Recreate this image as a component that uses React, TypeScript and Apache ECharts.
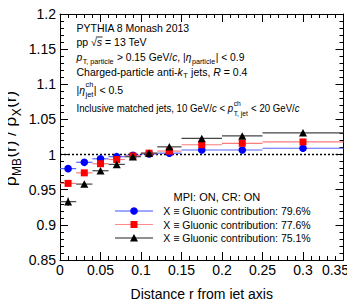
import React, { useEffect, useRef } from 'react';
import * as echarts from 'echarts';

const FONT = 'Liberation Sans';

// ---- data ----
const binEdges = [0, 0.02, 0.04, 0.06, 0.08, 0.1, 0.12, 0.15, 0.2, 0.25, 0.35];
const binCenters = [0.01, 0.03, 0.05, 0.07, 0.09, 0.11, 0.135, 0.175, 0.225, 0.3];
const gluon796 = [0.98, 0.989, 0.994, 0.997, 0.999, 1.001, 1.002, 1.0065, 1.0065, 1.009];
const gluon796Err = [0.004, 0.002, 0.0015, 0.0012, 0.001, 0.001, 0.001, 0.001, 0.001, 0.001];
const gluon776 = [0.959, 0.974, 0.987, 0.993, 0.998, 1.002, 1.005, 1.014, 1.016, 1.018];
const gluon776Err = [0.005, 0.003, 0.002, 0.0015, 0.001, 0.001, 0.001, 0.001, 0.001, 0.001];
const gluon751 = [0.933, 0.958, 0.977, 0.986, 0.997, 1.002, 1.011, 1.023, 1.0265, 1.031];
const gluon751Err = [0.006, 0.003, 0.002, 0.0015, 0.001, 0.001, 0.001, 0.001, 0.001, 0.001];
const xTickLabels = ['0', '0.05', '0.1', '0.15', '0.2', '0.25', '0.3', '0.35'];
const yTickLabels = ['0.85', '0.9', '0.95', '1', '1.05', '1.1', '1.15', '1.2'];
const legendTitle = 'MPI: ON, CR: ON';
const legendLabels = [
  'X ≡ Gluonic contribution: 79.6%',
  'X ≡ Gluonic contribution: 77.6%',
  'X ≡ Gluonic contribution: 75.1%',
];

type Part = { t: string; it?: boolean; k?: 'sub' | 'sup'; over?: boolean } | { sup: { t: string; it?: boolean }; sub: { t: string; it?: boolean } };

let mctx: CanvasRenderingContext2D | null = null;
function tw(t: string, size: number, it?: boolean) {
  if (!mctx) mctx = document.createElement('canvas').getContext('2d');
  mctx!.font = `${it ? 'italic ' : ''}${size}px "${FONT}"`;
  return mctx!.measureText(t).width;
}

function txt(t: string, x: number, base: number, size: number, it?: boolean) {
  return {
    type: 'text',
    x,
    y: base - 0.35 * size,
    silent: true,
    style: {
      text: t,
      fontSize: size,
      fontFamily: FONT,
      fontStyle: it ? 'italic' : 'normal',
      fill: '#000',
      align: 'left',
      verticalAlign: 'middle',
      textAlign: 'left',
      textVerticalAlign: 'middle',
    },
  };
}

function layout(parts: Part[], x0: number, base: number, size: number, out: any[], subRatio = 0.7) {
  let x = x0;
  const ss = size * subRatio;
  for (const p of parts) {
    if ('sup' in p) {
      const w1 = tw(p.sup.t, ss, p.sup.it);
      const w2 = tw(p.sub.t, ss, p.sub.it);
      out.push(txt(p.sup.t, x + 0.5, base - 0.6 * size, ss, p.sup.it));
      out.push(txt(p.sub.t, x + 0.5, base + 0.35 * size, ss, p.sub.it));
      x += Math.max(w1, w2) + 1;
    } else {
      const s = p.k ? ss : size;
      const b = p.k === 'sub' ? base + 0.3 * size : p.k === 'sup' ? base - 0.6 * size : base;
      const w = tw(p.t, s, p.it);
      out.push(txt(p.t, x + (p.k ? 0.5 : 0), b, s, p.it));
      if (p.over) {
        out.push({
          type: 'line',
          silent: true,
          shape: { x1: x - 1, y1: base - 0.8 * size, x2: x + w + 0.5, y2: base - 0.8 * size },
          style: { stroke: '#000', lineWidth: 0.8 },
        });
      }
      x += w + (p.k ? 1 : 0);
    }
  }
  return x;
}

const annotationLines: { parts: Part[]; base: number; size: number; sx?: number }[] = [
  { parts: [{ t: 'PYTHIA 8 Monash 2013' }], base: 32, size: 10.5 },
  { parts: [{ t: 'pp ' }, { t: '√' }, { t: 's', it: true, over: true }, { t: ' = 13 TeV' }], base: 45.4, size: 10.5 },
  {
    parts: [
      { t: 'p', it: true }, { t: 'T, particle', k: 'sub' }, { t: ' > 0.15 GeV/' }, { t: 'c', it: true },
      { t: ', |' }, { t: 'η', it: true }, { t: 'particle', k: 'sub' }, { t: '| < 0.9' },
    ],
    base: 61,
    size: 10.3,
  },
  {
    parts: [{ t: 'Charged-particle anti-' }, { t: 'k', it: true }, { t: 'T', k: 'sub' }, { t: ' jets, ' }, { t: 'R', it: true }, { t: ' = 0.4' }],
    base: 75.4,
    size: 10.5,
  },
  { parts: [{ t: '|' }, { t: 'η', it: true }, { sup: { t: 'ch' }, sub: { t: 'jet' } }, { t: '| < 0.5' }], base: 93.5, size: 10.5 },
  {
    parts: [
      { t: 'Inclusive matched jets, 10 GeV/' }, { t: 'c', it: true }, { t: ' < ' }, { t: 'p', it: true },
      { sup: { t: 'ch' }, sub: { t: 'T, jet' } }, { t: ' < 20 GeV/' }, { t: 'c', it: true },
    ],
    base: 112,
    size: 10.1,
    sx: 0.955,
  },
];

function errSeries(vals: number[], errs: number[], color: string, z: number) {
  return {
    type: 'custom',
    z,
    silent: true,
    clip: false,
    data: vals.map((v, i) => [binEdges[i], binEdges[i + 1], v, errs[i], binCenters[i]]),
    encode: { x: [0, 1, 4], y: 2 },
    renderItem: (_p: any, api: any) => {
      const x0 = api.value(0), x1 = api.value(1), y = api.value(2), e = api.value(3), xc = api.value(4);
      const pL = api.coord([x0, y]);
      const pR = api.coord([x1, y]);
      const pT = api.coord([xc, y + e]);
      const pB = api.coord([xc, y - e]);
      return {
        type: 'group',
        children: [
          { type: 'line', shape: { x1: pL[0], y1: pL[1], x2: pR[0], y2: pR[1] }, style: { stroke: color, lineWidth: 1.2 } },
          { type: 'line', shape: { x1: pT[0], y1: pT[1], x2: pB[0], y2: pB[1] }, style: { stroke: color, lineWidth: 1.2 } },
        ],
      };
    },
  };
}

function axisCommon(show: boolean) {
  return {
    axisLine: { show: true, onZero: false, lineStyle: { color: '#000', width: 1 } },
    axisTick: { show: true, inside: true, length: 8, lineStyle: { color: '#000', width: 1 } },
    minorTick: { show: true, splitNumber: 5, length: 4, lineStyle: { color: '#000', width: 1 } },
    splitLine: { show: false },
    minorSplitLine: { show: false },
    axisLabel: { show },
  };
}

export default function App() {
  const ref = useRef<HTMLDivElement>(null);
  useEffect(() => {
    if (!ref.current) return;
    const chart = echarts.init(ref.current, undefined, { renderer: 'svg' });

    const graphics: any[] = [];
    for (const ln of annotationLines) {
      if (ln.sx) {
        const ch: any[] = [];
        layout(ln.parts, 0, ln.base, ln.size, ch);
        graphics.push({ type: 'group', x: 76.5, y: 0, scaleX: ln.sx, scaleY: 1, children: ch });
      } else {
        layout(ln.parts, 76.5, ln.base, ln.size, graphics);
      }
    }
    const yParts: Part[] = [
      { t: 'ρ' }, { t: 'MB', k: 'sub' }, { t: '(r) / ' }, { t: 'ρ' }, { t: 'X', k: 'sub' }, { t: '(r)' },
    ];
    const yChildren: any[] = [];
    const W = layout(yParts, 0, 0, 17, yChildren);
    graphics.push({ type: 'group', x: 16.5, y: 138.5 + W / 2, rotation: Math.PI / 2, children: yChildren });
    graphics.push({
      type: 'text', x: 201.8, y: 293.5, silent: true,
      style: { text: 'Distance r from jet axis', fontSize: 14, fontFamily: FONT, fill: '#000', align: 'center', verticalAlign: 'middle', textAlign: 'center', textVerticalAlign: 'middle' },
    });
    graphics.push({
      type: 'text', x: 173.5, y: 196.5, silent: true,
      style: { text: legendTitle, fontSize: 11, fontFamily: FONT, fill: '#000', align: 'left', verticalAlign: 'middle', textAlign: 'left', textVerticalAlign: 'middle' },
    });
    const legY = [211, 224.5, 238];
    const legLine = ['#3a55ff', '#ff8888', '#222'];
    const mk = ['#0000ff', '#ff0000', '#000'];
    legY.forEach((y, i) => {
      graphics.push({ type: 'line', silent: true, shape: { x1: 115, y1: y, x2: 153, y2: y }, style: { stroke: legLine[i], lineWidth: 1.2 } });
      if (i === 0) graphics.push({ type: 'circle', silent: true, shape: { cx: 134, cy: y, r: 3.8 }, style: { fill: mk[i] } });
      if (i === 1) graphics.push({ type: 'rect', silent: true, shape: { x: 130.5, y: y - 3.5, width: 7, height: 7 }, style: { fill: mk[i] } });
      if (i === 2) graphics.push({ type: 'polygon', silent: true, shape: { points: [[134, y - 4], [138, y + 3.5], [130, y + 3.5]] }, style: { fill: mk[i] } });
      graphics.push({
        type: 'text', x: 163.3, y, silent: true,
        style: { text: legendLabels[i], fontSize: 10.5, fontFamily: FONT, fill: '#000', align: 'left', verticalAlign: 'middle', textAlign: 'left', textVerticalAlign: 'middle' },
      });
    });

    const xFmt = (v: number) => {
      const idx = Math.round(v / 0.05);
      const s = xTickLabels[idx] ?? '';
      return idx === xTickLabels.length - 1 ? `{last|${s}}` : s;
    };
    const yFmt = (v: number) => yTickLabels[Math.round((v - 0.85) / 0.05)] ?? '';

    chart.setOption({
      animation: false,
      backgroundColor: '#fff',
      grid: { left: 60, right: 11.5, top: 14, bottom: 47, containLabel: false },
      xAxis: [
        {
          type: 'value', min: 0, max: 0.35, interval: 0.05, position: 'bottom',
          ...axisCommon(true),
          axisLabel: {
            show: true, fontSize: 14, fontFamily: FONT, color: '#000', margin: 3, formatter: xFmt,
            showMinLabel: true, showMaxLabel: true,
            rich: { last: { fontSize: 14, fontFamily: FONT, color: '#000', padding: [0, 16, 0, 0] } },
          },
        },
        { type: 'value', min: 0, max: 0.35, interval: 0.05, position: 'top', ...axisCommon(false) },
      ],
      yAxis: [
        {
          type: 'value', min: 0.85, max: 1.2, interval: 0.05, position: 'left',
          ...axisCommon(true),
          axisLabel: { show: true, fontSize: 14, fontFamily: FONT, color: '#000', margin: 4, formatter: yFmt, showMinLabel: true, showMaxLabel: true },
        },
        { type: 'value', min: 0.85, max: 1.2, interval: 0.05, position: 'right', ...axisCommon(false) },
      ],
      series: [
        {
          type: 'line', z: 1, silent: true, symbol: 'none',
          data: [[0, 1], [0.35, 1]],
          lineStyle: { color: '#000', width: 1.4, type: [2, 2] },
        },
        errSeries(gluon796, gluon796Err, '#5566ff', 2),
        {
          type: 'scatter', z: 3, silent: true, symbol: 'circle', symbolSize: 7.6,
          data: gluon796.map((v, i) => [binCenters[i], v]),
          itemStyle: { color: '#0000ff', opacity: 1 },
        },
        errSeries(gluon776, gluon776Err, '#ff7a7a', 4),
        {
          type: 'scatter', z: 5, silent: true, symbol: 'rect', symbolSize: 7,
          data: gluon776.map((v, i) => [binCenters[i], v]),
          itemStyle: { color: '#ff0000', opacity: 1 },
        },
        errSeries(gluon751, gluon751Err, '#444444', 6),
        {
          type: 'scatter', z: 7, silent: true, symbol: 'triangle', symbolSize: [8, 7.5],
          data: gluon751.map((v, i) => [binCenters[i], v]),
          itemStyle: { color: '#000000', opacity: 1 },
        },
      ],
      graphic: graphics,
    });
    return () => chart.dispose();
  }, []);
  return <div ref={ref} style={{ width: 355, height: 307, margin: '-8px' }} />;
}
